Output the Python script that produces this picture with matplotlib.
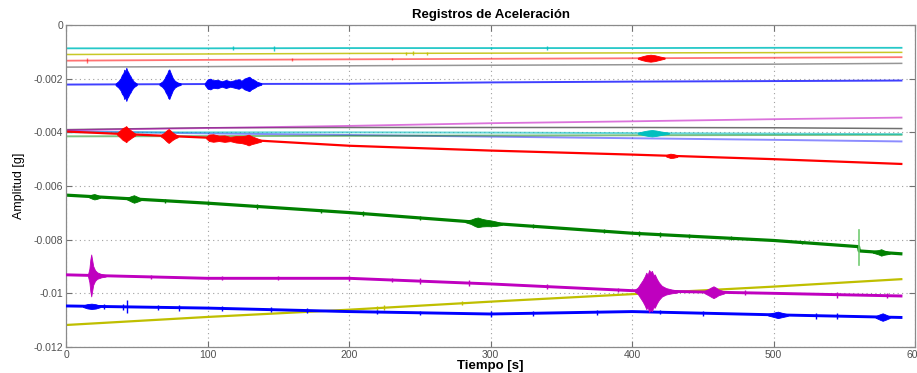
import numpy as np
import matplotlib
matplotlib.use("Agg")
import matplotlib.pyplot as plt

plt.rcParams['font.family'] = ['Liberation Sans', 'DejaVu Sans']

# ---------------- data ----------------
T = [0, 100, 200, 300, 400, 500, 591]

cyan_top = [-0.00087, -0.00087, -0.00086, -0.00086, -0.00086, -0.00085, -0.00085]
yellow_top = [-0.00110, -0.00108, -0.00106, -0.00105, -0.00104, -0.00103, -0.00102]
red_top = [-0.00133, -0.00130, -0.00128, -0.00126, -0.00124, -0.00122, -0.00120]
gray_top = [-0.00157, -0.00155, -0.00152, -0.00150, -0.00148, -0.00146, -0.00143]
blue_top = [-0.00222, -0.00220, -0.00219, -0.00214, -0.00211, -0.00209, -0.00207]

gray_mid = [-0.00390, -0.00383, -0.00382, -0.00382, -0.00382, -0.00383, -0.00386]
magenta_mid = [-0.00392, -0.00384, -0.00376, -0.00366, -0.00359, -0.00351, -0.00345]
cyan_mid = [-0.00400, -0.00400, -0.00400, -0.00401, -0.00403, -0.00405, -0.00407]
green_mid = [-0.00415, -0.00414, -0.00413, -0.00412, -0.00411, -0.00410, -0.00409]
blue_mid = [-0.00396, -0.00404, -0.00410, -0.00416, -0.00422, -0.00428, -0.00434]
red_mid = [-0.00397, -0.00420, -0.00450, -0.00468, -0.00483, -0.00500, -0.00518]

T_green = [0, 100, 200, 300, 400, 500, 560, 560.5, 591]
green_low = [-0.00634, -0.00664, -0.00699, -0.00739, -0.00776, -0.00803,
             -0.00826, -0.00842, -0.00853]
green_spike_t = 560
green_spike_y = [-0.00764, -0.00894]

magenta_low = [-0.00931, -0.00944, -0.00944, -0.00965, -0.00990, -0.01000, -0.01010]
yellow_low = [-0.01118, -0.01088, -0.01061, -0.01031, -0.01003, -0.00975, -0.00947]
blue_low = [-0.01047, -0.01055, -0.01068, -0.01077, -0.01068, -0.01080, -0.01090]

# bursts: (times, half-amplitudes) read from the envelope of each event
blue_top_bursts = [
    ([35, 37, 38.5, 39.5, 40.5, 41.2, 42, 42.6, 43.2, 44, 44.8, 45.6, 46.5, 48, 50],
     [0.00003, 0.00012, 0.00022, 0.00035, 0.00042, 0.00055, 0.00048, 0.00062, 0.00052,
      0.00045, 0.00036, 0.0003, 0.0002, 0.0001, 0.00003]),
    ([66, 68, 69.5, 70.5, 71.5, 72.3, 73, 73.7, 74.5, 75.5, 77, 79, 81],
     [0.00003, 0.0001, 0.0002, 0.00032, 0.0004, 0.00052, 0.00055, 0.00045, 0.00035,
      0.00022, 0.00012, 0.00006, 0.00003]),
    ([98, 100, 102, 104, 107, 110, 113, 116, 119, 122, 124, 126, 128, 129.5, 131, 133, 135, 138],
     [0.00003, 0.00017, 0.0002, 0.00014, 0.00016, 0.0001, 0.00015, 0.0001, 0.00014, 0.00018,
      0.00012, 0.0002, 0.00024, 0.00027, 0.0002, 0.00015, 0.00008, 0.00003]),
]
red_mid_bursts = [
    ([36, 38, 40, 41.5, 42.5, 43.5, 45, 47, 49],
     [0.00003, 0.00012, 0.00022, 0.00026, 0.0003, 0.00024, 0.00018, 0.0001, 0.00003]),
    ([67, 69, 71, 72.5, 73.5, 75, 77, 79],
     [0.00003, 0.0001, 0.0002, 0.00026, 0.00022, 0.00015, 0.00008, 0.00003]),
    ([99, 101, 104, 108, 112, 116, 120, 124, 127, 129, 131, 134, 138],
     [0.00003, 0.00012, 0.00014, 0.0001, 0.00012, 0.00008, 0.00012, 0.00013, 0.00016,
      0.0002, 0.00015, 0.0001, 0.00003]),
    ([424, 427, 429, 432], [0.00003, 0.00008, 0.00007, 0.00003]),
]
red_top_bursts = [([404, 407, 410, 413, 416, 419, 423],
                   [0.00002, 0.00007, 0.00011, 0.00013, 0.00011, 0.00007, 0.00002])]
cyan_mid_bursts = [([404, 408, 411, 414, 417, 421, 426],
                    [0.00002, 0.00007, 0.0001, 0.00012, 0.0001, 0.00006, 0.00002])]
magenta_low_bursts = [
    ([15.5, 16.5, 17.2, 17.8, 18.4, 19.2, 20.5, 22, 25, 28],
     [0.00003, 0.00025, 0.0006, 0.00078, 0.0006, 0.00035, 0.0002, 0.00012, 0.00006, 0.00003]),
    ([402, 404, 406, 407.5, 409, 410, 411, 412, 413, 414, 415, 416, 417.5, 419, 421, 424, 428, 432],
     [0.00004, 0.00012, 0.00028, 0.0004, 0.00055, 0.00068, 0.0006, 0.00078, 0.0007, 0.00075,
      0.0006, 0.00062, 0.00045, 0.00032, 0.0002, 0.00012, 0.00007, 0.00004]),
    ([451, 454, 456, 457.5, 459, 461, 465],
     [0.00004, 0.00012, 0.00018, 0.00022, 0.00018, 0.00011, 0.00004]),
]
green_low_bursts = [
    ([16, 18.5, 20, 21.5, 24], [0.00003, 0.00008, 0.0001, 0.00008, 0.00003]),
    ([43, 46, 48, 50, 53], [0.00003, 0.0001, 0.00014, 0.0001, 0.00003]),
    ([282, 286, 289, 291, 294, 297, 300, 304, 308],
     [0.00003, 0.00008, 0.00015, 0.00018, 0.00014, 0.00012, 0.00011, 0.00008, 0.00003]),
    ([570, 574, 576, 578, 582], [0.00003, 0.00008, 0.00012, 0.00008, 0.00003]),
]
blue_low_bursts = [
    ([12, 15, 18, 21, 24], [0.00003, 0.00008, 0.0001, 0.00008, 0.00003]),
    ([496, 500, 503, 506, 510], [0.00003, 0.00008, 0.00012, 0.00008, 0.00003]),
    ([572, 575, 577, 579, 582], [0.00003, 0.0001, 0.00014, 0.0001, 0.00003]),
]

# short isolated spikes: (times, half-amplitudes)
cyan_top_spikes = ([118, 147, 300, 340], [0.00008, 0.0001, 0.00005, 0.00006])
yellow_top_spikes = ([240, 245, 255], [0.00006, 0.00008, 0.00005])
red_top_spikes = ([15, 160, 230], [0.00008, 0.00004, 0.00004])
green_low_spikes = ([70, 100, 135, 180, 210, 250, 330, 380, 405, 420, 440, 470, 520],
                    [0.00007, 0.00008, 0.00008, 0.00007, 0.00008, 0.00009, 0.00008,
                     0.00007, 0.00008, 0.00009, 0.00007, 0.00007, 0.00006])
magenta_low_spikes = ([60, 110, 150, 200, 230, 250, 285, 340, 390, 480, 545, 580],
                      [0.00007, 0.00008, 0.00007, 0.00009, 0.00008, 0.0001, 0.00011,
                       0.00009, 0.00008, 0.0001, 0.00011, 0.0001])
blue_low_spikes = ([27, 40, 43, 65, 80, 110, 145, 170, 220, 250, 300, 330, 375, 420, 450, 530, 545],
                   [0.00009, 0.00011, 0.00024, 0.0001, 0.00011, 0.0001, 0.00009, 0.0001, 0.00008,
                    0.00008, 0.00011, 0.00009, 0.0001, 0.00008, 0.0001, 0.00011, 0.0001])
yellow_low_spikes = ([220, 225, 280], [0.00008, 0.0001, 0.00007])

# colours (MATLAB-style)
C_BLUE = (0, 0, 1)
C_GREEN = (0, 0.5, 0)
C_RED = (1, 0, 0)
C_CYAN = (0, 0.75, 0.75)
C_MAG = (0.75, 0, 0.75)
C_YEL = (0.75, 0.75, 0)
C_GRAY = (0.25, 0.25, 0.25)

fig = plt.figure(figsize=(9.17, 3.73), dpi=100)
ax = fig.add_axes([0.072, 0.0697, 0.926, 0.8633])


def draw(t, y, color, lw, alpha=1.0, bursts=(), spikes=None, z=2):
    ax.plot(t, y, color=color, lw=lw, alpha=alpha, zorder=z, solid_capstyle='butt')
    for bt, ba in bursts:
        bt = np.asarray(bt, float)
        base = np.interp(bt, t, y)
        ba = np.asarray(ba)
        ax.fill_between(bt, base - ba, base + ba, color=color, lw=0.6,
                        edgecolor=color, zorder=z + 0.1)
    if spikes is not None:
        st, sa = np.asarray(spikes[0], float), np.asarray(spikes[1])
        base = np.interp(st, t, y)
        ax.vlines(st, base - sa, base + sa, color=color, lw=1.0, alpha=alpha, zorder=z)


# top group
draw(T, cyan_top, C_CYAN, 1.3, 0.85, spikes=cyan_top_spikes)
draw(T, yellow_top, C_YEL, 1.1, 0.85, spikes=yellow_top_spikes)
draw(T, red_top, C_RED, 1.3, 0.55, red_top_bursts, spikes=red_top_spikes)
draw(T, gray_top, C_GRAY, 1.1, 0.55)
draw(T, blue_top, C_BLUE, 1.4, 0.75, blue_top_bursts)

# middle group
draw(T, gray_mid, C_GRAY, 1.1, 0.75)
draw(T, magenta_mid, C_MAG, 1.3, 0.55)
draw(T, blue_mid, C_BLUE, 1.4, 0.45)
draw(T, green_mid, C_GREEN, 1.4, 0.5)
draw(T, cyan_mid, C_CYAN, 1.4, 0.6, cyan_mid_bursts)
draw(T, red_mid, C_RED, 1.6, 1.0, red_mid_bursts)

# lower group
draw(T_green, green_low, C_GREEN, 2.3, 1.0, green_low_bursts, spikes=None)
gb = np.interp(green_low_spikes[0], T_green, green_low)
ax.vlines(green_low_spikes[0], gb - np.asarray(green_low_spikes[1]),
          gb + np.asarray(green_low_spikes[1]), color=C_GREEN, lw=1.0, zorder=2)
ax.plot([green_spike_t, green_spike_t], green_spike_y, color=(0.45, 0.8, 0.45), lw=1.2, zorder=2)
draw(T, yellow_low, C_YEL, 1.6, 1.0, spikes=yellow_low_spikes)
draw(T, magenta_low, C_MAG, 2.1, 1.0, magenta_low_bursts, spikes=magenta_low_spikes, z=3)
draw(T, blue_low, C_BLUE, 2.1, 1.0, blue_low_bursts, spikes=blue_low_spikes, z=3)

# axes styling
ax.set_xlim(0, 600)
ax.set_ylim(-0.012, 0)
ax.set_xticks([0, 100, 200, 300, 400, 500, 600])
ax.set_yticks([0, -0.002, -0.004, -0.006, -0.008, -0.01, -0.012])
ax.set_yticklabels(['0', '-0.002', '-0.004', '-0.006', '-0.008', '-0.01', '-0.012'])
ax.grid(True, linestyle=(0, (1, 3)), color='#a0a0a0', lw=0.8)
ax.tick_params(direction='in', length=4, width=0.8, colors='#707070',
               labelsize=7.5, labelcolor='#505050', top=True, right=True, pad=2)
for s in ax.spines.values():
    s.set_color('#8a8a8a')
    s.set_linewidth(0.9)

ax.set_title('Registros de Aceleración', fontsize=9.5, fontweight='heavy', pad=5)
ax.set_xlabel('Tiempo [s]', fontsize=9.5, fontweight='bold', labelpad=0)
ax.set_ylabel('Amplitud [g]', fontsize=9, labelpad=6)

fig.savefig('out.png', dpi=100)
